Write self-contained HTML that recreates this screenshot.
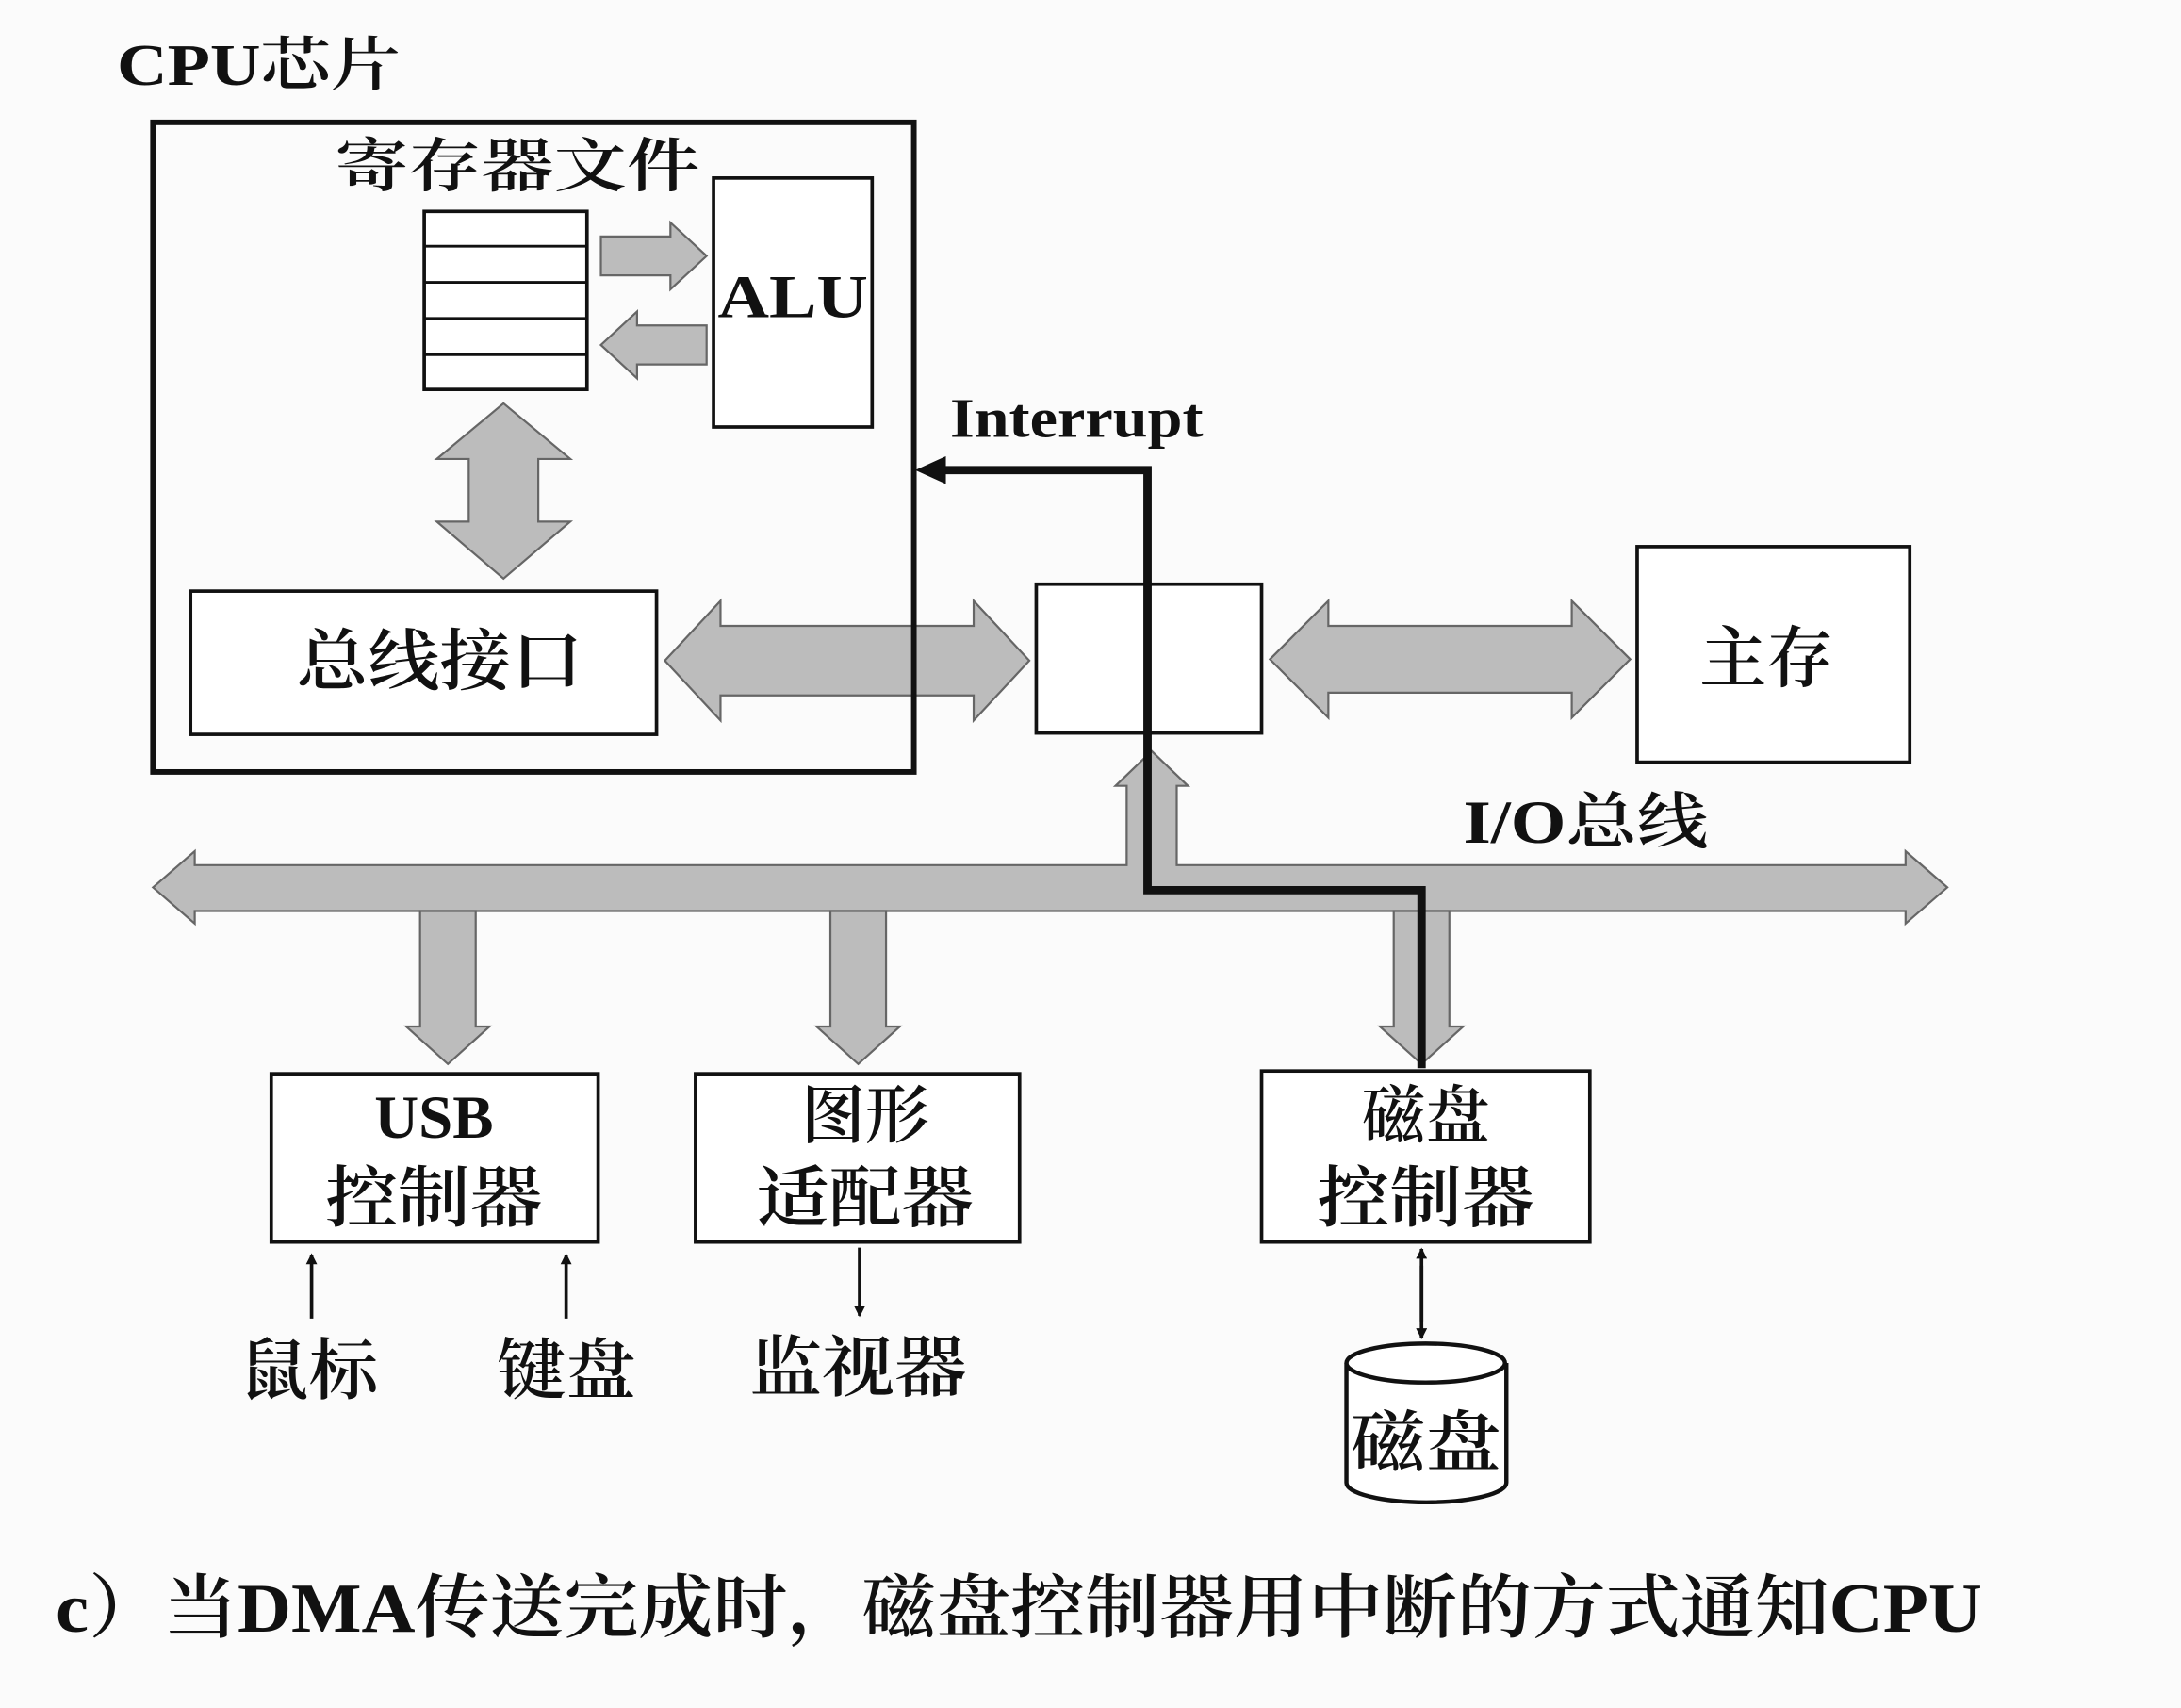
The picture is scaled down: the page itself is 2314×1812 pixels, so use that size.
<!DOCTYPE html>
<html><head><meta charset="utf-8"><style>
html,body{margin:0;padding:0;background:#fbfbfb;}
svg{display:block}
text{font-family:"Liberation Serif","Noto Serif CJK SC",serif;fill:#111;font-weight:600}
</style></head><body>
<svg width="2314" height="1812" viewBox="0 0 1568 1228" preserveAspectRatio="none" xmlns="http://www.w3.org/2000/svg">
<defs>
<marker id="ah" markerWidth="8" markerHeight="8" refX="7" refY="4" orient="auto" markerUnits="userSpaceOnUse"><path d="M0,0 L8,4 L0,8 z" fill="#111"/></marker>
</defs>
<g stroke="#666" stroke-width="1.5" fill="#bcbcbc">
<path d="M432,170 H482 V160 L508,184 L482,208 V198 H432 z"/>
<path d="M508,234 H458 V224 L432,248 L458,272 V262 H508 z"/>
<path d="M362,290 L410,330 H387 V375 H410 L362,416 L314,375 H337 V330 H314 z"/>
<path d="M478,475 L518,432 V450 H700 V432 L740,475 L700,518 V500 H518 V518 z"/>
<path d="M913,474 L955,432 V450 H1130 V432 L1172,474 L1130,516 V498 H955 V516 z"/>
<path d="M110,638 L140,612 V622 H810 V565 H802 L828,540 L854,565 H846 V622 H1370 V612 L1400,638 L1370,664 V655 H140 V664 z"/>
<path d="M302,655 H342 V738 H352 L322,765 L292,738 H302 z"/>
<path d="M597,655 H637 V738 H647 L617,765 L587,738 H597 z"/>
<path d="M1002,655 H1042 V738 H1052 L1022,765 L992,738 H1002 z"/>
</g>
<rect x="110" y="88" width="547" height="467" fill="none" stroke="#111" stroke-width="4"/>
<text x="84" y="61" font-size="42" textLength="204" lengthAdjust="spacingAndGlyphs">CPU芯片</text>
<text x="372" y="134" font-size="42" text-anchor="middle" textLength="262" lengthAdjust="spacingAndGlyphs">寄存器文件</text>
<g fill="#fff" stroke="#111" stroke-width="2.5">
<rect x="305" y="152" width="117" height="128"/>
<rect x="513" y="128" width="114" height="179"/>
<rect x="137" y="425" width="335" height="103"/>
<rect x="745" y="420" width="162" height="107"/>
<rect x="1177" y="393" width="196" height="155"/>
<rect x="195" y="772" width="235" height="121"/>
<rect x="500" y="772" width="233" height="121"/>
<rect x="907" y="770" width="236" height="123"/>
</g>
<g stroke="#111" stroke-width="2"><line x1="305" y1="177" x2="422" y2="177"/><line x1="305" y1="203" x2="422" y2="203"/><line x1="305" y1="229" x2="422" y2="229"/><line x1="305" y1="255" x2="422" y2="255"/>
<line x1="825" y1="420" x2="825" y2="527"/></g>
<text x="570" y="228" font-size="44" text-anchor="middle" textLength="108" lengthAdjust="spacingAndGlyphs">ALU</text>
<text x="316" y="492" font-size="48" text-anchor="middle" textLength="206" lengthAdjust="spacingAndGlyphs">总线接口</text>
<text x="1270" y="490" font-size="48" text-anchor="middle">主存</text>
<text x="774" y="314" font-size="40" text-anchor="middle" textLength="182" lengthAdjust="spacingAndGlyphs">Interrupt</text>
<text x="1140" y="606" font-size="44" text-anchor="middle" textLength="176" lengthAdjust="spacingAndGlyphs">I/O总线</text>
<path d="M1022,768 V640 H825 V338 H672" fill="none" stroke="#111" stroke-width="6"/>
<path d="M658,338 L680,328 L680,348 z" fill="#111"/>
<text x="312" y="818" font-size="44" text-anchor="middle">USB</text>
<text x="312" y="878" font-size="48" text-anchor="middle" textLength="156" lengthAdjust="spacingAndGlyphs">控制器</text>
<text x="622" y="818" font-size="46" text-anchor="middle">图形</text>
<text x="622" y="878" font-size="48" text-anchor="middle" textLength="156" lengthAdjust="spacingAndGlyphs">适配器</text>
<text x="1025" y="818" font-size="46" text-anchor="middle">磁盘</text>
<text x="1025" y="878" font-size="48" text-anchor="middle" textLength="156" lengthAdjust="spacingAndGlyphs">控制器</text>
<g stroke="#111" stroke-width="2.5">
<line x1="224" y1="948" x2="224" y2="902" marker-end="url(#ah)"/>
<line x1="407" y1="948" x2="407" y2="902" marker-end="url(#ah)"/>
<line x1="618" y1="897" x2="618" y2="946" marker-end="url(#ah)"/>
<line x1="1022" y1="910" x2="1022" y2="962" marker-end="url(#ah)"/>
<line x1="1022" y1="950" x2="1022" y2="898" marker-end="url(#ah)"/>
</g>
<text x="222" y="1002" font-size="48" text-anchor="middle" textLength="100" lengthAdjust="spacingAndGlyphs">鼠标</text>
<text x="407" y="1002" font-size="48" text-anchor="middle" textLength="100" lengthAdjust="spacingAndGlyphs">键盘</text>
<text x="617" y="1000" font-size="48" text-anchor="middle" textLength="156" lengthAdjust="spacingAndGlyphs">监视器</text>
<path d="M968,980 V1066 A57,14 0 0 0 1083,1066 V980" fill="#fff" stroke="#111" stroke-width="3"/>
<ellipse cx="1025" cy="980" rx="57" ry="14" fill="#fff" stroke="#111" stroke-width="3"/>
<text x="1025" y="1054" font-size="48" text-anchor="middle" textLength="108" lengthAdjust="spacingAndGlyphs">磁盘</text>
<text x="40" y="1173" font-size="50" textLength="1385" lengthAdjust="spacingAndGlyphs">c）当DMA传送完成时，磁盘控制器用中断的方式通知CPU</text>
</svg>
</body></html>
